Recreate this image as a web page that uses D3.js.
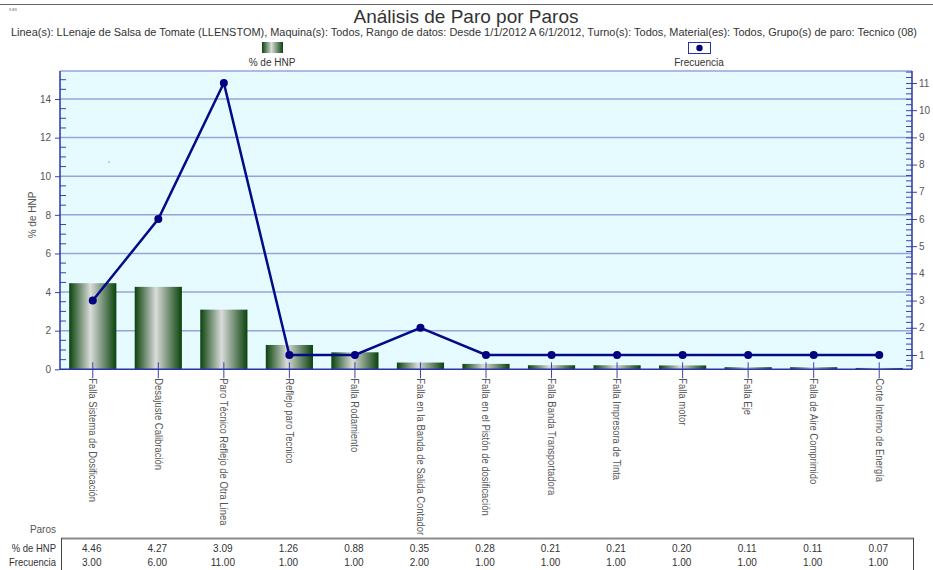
<!DOCTYPE html>
<html>
<head>
<meta charset="utf-8">
<script src="https://cdn.jsdelivr.net/npm/d3@7"></script>
<style>
  body { margin: 0; background: #fff; }
  svg { display: block; font-family: "Liberation Sans", Arial, sans-serif; }
</style>
</head>
<body>
<div id="chart"></div>
<script>
const categories = [
    "Falla Sistema de Dosificación",
    "Desajuste Calibración",
    "Paro Técnico Reflejo de Otra Linea",
    "Reflejo paro Tecnico",
    "Falla Rodamiento",
    "Falla en la Banda de Salida Contador",
    "Falla en el Pistón de dosificación",
    "Falla Banda Transportadora",
    "Falla Impresora de Tinta",
    "Falla motor",
    "Falla Eje",
    "Falla de Aire Comprimido",
    "Corte Interno de Energía"
];
const hnp = [4.46, 4.27, 3.09, 1.26, 0.88, 0.35, 0.28, 0.21, 0.21, 0.20, 0.11, 0.11, 0.07];
const frecuencia = [3, 6, 11, 1, 1, 2, 1, 1, 1, 1, 1, 1, 1];

const leftTicks = [0, 2, 4, 6, 8, 10, 12, 14];
const rightTicks = [1, 2, 3, 4, 5, 6, 7, 8, 9, 10, 11];

const title = "Análisis de Paro por Paros";
const subtitle = "Linea(s): LLenaje de Salsa de Tomate (LLENSTOM), Maquina(s): Todos, Rango de datos: Desde 1/1/2012 A 6/1/2012, Turno(s): Todos, Material(es): Todos, Grupo(s) de paro: Tecnico (08)";

const W = 933, H = 570;
const plot = { left: 60, right: 912, top: 71, bottom: 369.3 };

const svg = d3.select("#chart").append("svg")
    .attr("width", W)
    .attr("height", H);

// gradients
const defs = svg.append("defs");
const grad = defs.append("linearGradient")
    .attr("id", "barGrad")
    .attr("x1", "0%").attr("x2", "100%")
    .attr("y1", "0%").attr("y2", "0%");
grad.append("stop").attr("offset", "0%").attr("stop-color", "#0a420c");
grad.append("stop").attr("offset", "45%").attr("stop-color", "#dadcda");
grad.append("stop").attr("offset", "100%").attr("stop-color", "#0a420c");

// ---- Scales ----
const x = d3.scaleBand()
    .domain(categories)
    .range([plot.left, plot.right])
    .paddingInner(0.28)
    .paddingOuter(0.14);

const y = d3.scaleLinear()
    .domain([0, 15.45])
    .range([plot.bottom, plot.top]);

const y2 = d3.scaleLinear()
    .domain([0.474, 11.44])
    .range([plot.bottom, plot.top]);

const cx = d => x(d) + x.bandwidth() / 2;

// top rule + tiny note
svg.append("line")
    .attr("x1", 0).attr("x2", W)
    .attr("y1", 4.5).attr("y2", 4.5)
    .attr("stroke", "#666").attr("stroke-width", 1);
svg.append("text")
    .attr("x", 9).attr("y", 11)
    .style("font-size", "4px")
    .attr("fill", "#555")
    .text("9.83");

// ---- Titles ----
svg.append("text")
    .attr("x", 466).attr("y", 23)
    .attr("text-anchor", "middle")
    .style("font-size", "19px")
    .attr("fill", "#333")
    .text(title);

svg.append("text")
    .attr("x", 464).attr("y", 36)
    .attr("text-anchor", "middle")
    .attr("textLength", 906)
    .attr("lengthAdjust", "spacingAndGlyphs")
    .style("font-size", "10px")
    .attr("fill", "#333")
    .text(subtitle);

// ---- Legend ----
svg.append("rect")
    .attr("x", 262).attr("y", 42)
    .attr("width", 21).attr("height", 11)
    .attr("fill", "url(#barGrad)");
svg.append("text")
    .attr("x", 272).attr("y", 66)
    .attr("text-anchor", "middle")
    .style("font-size", "10px")
    .attr("fill", "#333")
    .text("% de HNP");

svg.append("rect")
    .attr("x", 688.5).attr("y", 42.5)
    .attr("width", 22).attr("height", 11)
    .attr("fill", "#fff")
    .attr("stroke", "#2233aa")
    .attr("stroke-width", 1);
svg.append("circle")
    .attr("cx", 699.5).attr("cy", 48)
    .attr("r", 3.2)
    .attr("fill", "#000080");
svg.append("text")
    .attr("x", 699).attr("y", 66)
    .attr("text-anchor", "middle")
    .style("font-size", "10px")
    .attr("fill", "#333")
    .text("Frecuencia");

// ---- Plot background ----
svg.append("rect")
    .attr("x", plot.left).attr("y", plot.top)
    .attr("width", plot.right - plot.left)
    .attr("height", plot.bottom - plot.top)
    .attr("fill", "#e6fbff");

// grid lines
svg.append("g")
    .selectAll("line")
    .data(leftTicks.filter(d => d > 0))
    .join("line")
    .attr("x1", plot.left).attr("x2", plot.right)
    .attr("y1", d => y(d)).attr("y2", d => y(d))
    .attr("stroke", "#9aa2dc")
    .attr("stroke-width", 1.5);

// top border
svg.append("line")
    .attr("x1", plot.left).attr("x2", plot.right)
    .attr("y1", plot.top).attr("y2", plot.top)
    .attr("stroke", "#9aa2dc")
    .attr("stroke-width", 1.5);

// ---- Bars ----
svg.append("g")
    .selectAll("rect")
    .data(categories)
    .join("rect")
    .attr("x", d => x(d))
    .attr("width", x.bandwidth())
    .attr("y", (d, i) => y(hnp[i]))
    .attr("height", (d, i) => y(0) - y(hnp[i]))
    .attr("fill", "url(#barGrad)");

// ---- Left axis ----
const leftAxis = svg.append("g")
    .attr("transform", `translate(${plot.left},0)`)
    .call(d3.axisLeft(y).tickValues(leftTicks).tickSize(5).tickPadding(4));
leftAxis.select(".domain").remove();
leftAxis.selectAll(".tick line").attr("stroke", "#3a44b0");
leftAxis.selectAll(".tick text")
    .attr("fill", "#555")
    .style("font-size", "10px");

// minor ticks left (inside)
svg.append("g")
    .selectAll("line")
    .data(d3.range(0.5, 15.45, 0.5).filter(v => v % 2 !== 0))
    .join("line")
    .attr("x1", plot.left).attr("x2", plot.left + 6)
    .attr("y1", d => y(d)).attr("y2", d => y(d))
    .attr("stroke", "#3a44b0").attr("stroke-width", 1);

svg.append("line")
    .attr("x1", plot.left).attr("x2", plot.left)
    .attr("y1", plot.top).attr("y2", plot.bottom)
    .attr("stroke", "#2a35a8").attr("stroke-width", 1.5);

// ---- Right axis ----
const rightAxis = svg.append("g")
    .attr("transform", `translate(${plot.right},0)`)
    .call(d3.axisRight(y2).tickValues(rightTicks).tickSize(5).tickPadding(2));
rightAxis.select(".domain").remove();
rightAxis.selectAll(".tick line").attr("stroke", "#3a44b0").attr("x1", -6);
rightAxis.selectAll(".tick text")
    .attr("fill", "#555")
    .style("font-size", "10px");

svg.append("g")
    .selectAll("line")
    .data(d3.range(0.6, 11.44, 0.2).filter(v => Math.abs(v - Math.round(v)) > 0.05))
    .join("line")
    .attr("x1", plot.right - 6).attr("x2", plot.right)
    .attr("y1", d => y2(d)).attr("y2", d => y2(d))
    .attr("stroke", "#3a44b0").attr("stroke-width", 1);

svg.append("line")
    .attr("x1", plot.right).attr("x2", plot.right)
    .attr("y1", plot.top).attr("y2", plot.bottom)
    .attr("stroke", "#2a35a8").attr("stroke-width", 1.5);

// ---- Bottom axis ----
svg.append("line")
    .attr("x1", plot.left).attr("x2", plot.right)
    .attr("y1", plot.bottom).attr("y2", plot.bottom)
    .attr("stroke", "#2a35a8").attr("stroke-width", 1.5);

const xAxis = svg.append("g")
    .attr("transform", `translate(0,${plot.bottom})`)
    .call(d3.axisBottom(x).tickSize(9).tickPadding(0));
xAxis.select(".domain").remove();
xAxis.selectAll(".tick line")
    .attr("y1", -7)
    .attr("stroke", "#3a44b0");
// labels read downward, a bit condensed like the original
xAxis.selectAll(".tick text")
    .attr("transform", "translate(0,9) rotate(90) scale(0.9,1)")
    .attr("text-anchor", "start")
    .attr("x", 0)
    .attr("y", 0)
    .attr("dy", "0.35em")
    .attr("fill", "#555")
    .style("font-size", "10.5px");

// ---- Y label ----
svg.append("text")
    .attr("transform", "translate(36,215) rotate(-90)")
    .attr("text-anchor", "middle")
    .style("font-size", "10px")
    .attr("fill", "#555")
    .text("% de HNP");

// stray dot
svg.append("circle")
    .attr("cx", 109).attr("cy", 162).attr("r", 0.8)
    .attr("fill", "#8890d0");

// ---- Frecuencia line ----
const line = d3.line()
    .x((d, i) => cx(categories[i]))
    .y(d => y2(d));

svg.append("path")
    .datum(frecuencia)
    .attr("d", line)
    .attr("fill", "none")
    .attr("stroke", "#000c88")
    .attr("stroke-width", 2.5);

svg.append("g")
    .selectAll("circle")
    .data(frecuencia)
    .join("circle")
    .attr("cx", (d, i) => cx(categories[i]))
    .attr("cy", d => y2(d))
    .attr("r", 4)
    .attr("fill", "#000080");

// ---- Data table ----
svg.append("text")
    .attr("x", 56).attr("y", 533)
    .attr("text-anchor", "end")
    .style("font-size", "10px")
    .attr("fill", "#555")
    .text("Paros");

svg.append("line")
    .attr("x1", 61).attr("x2", 914)
    .attr("y1", 538.5).attr("y2", 538.5)
    .attr("stroke", "#8a8a8a").attr("stroke-width", 2);
svg.append("line")
    .attr("x1", 61.5).attr("x2", 61.5)
    .attr("y1", 538).attr("y2", 570)
    .attr("stroke", "#444").attr("stroke-width", 1);
svg.append("line")
    .attr("x1", 913.5).attr("x2", 913.5)
    .attr("y1", 538).attr("y2", 570)
    .attr("stroke", "#444").attr("stroke-width", 1);

const rows = [
    { label: "% de HNP", values: hnp, y: 552 },
    { label: "Frecuencia", values: frecuencia, y: 566 }
];

rows.forEach(r => {
    svg.append("text")
        .attr("transform", `translate(56,${r.y}) scale(0.95,1)`)
        .attr("text-anchor", "end")
        .style("font-size", "10px")
        .attr("fill", "#333")
        .text(r.label);
    svg.append("g")
        .selectAll("text")
        .data(r.values)
        .join("text")
        .attr("x", (d, i) => cx(categories[i]) - 1)
        .attr("y", r.y)
        .attr("text-anchor", "middle")
        .style("font-size", "10px")
        .attr("fill", "#333")
        .text(d => d.toFixed(2));
});
</script>
</body>
</html>
